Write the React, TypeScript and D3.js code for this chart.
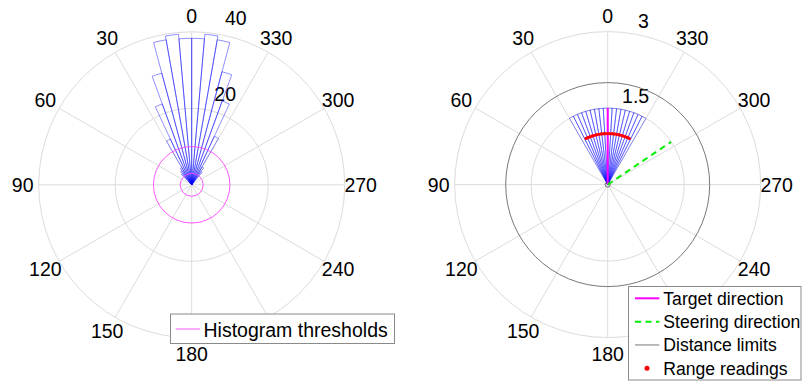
import React from "react";
import * as d3 from "d3";

// left panel: polar histogram (degrees, counter-clockwise from top)
const histBinEdges = [-40, -35, -30, -25, -20, -15, -10, -5, 0, 5, 10, 15, 20, 25, 30, 35, 40, 45];
const histBinValues = [4.2, 5.4, 14, 23.3, 30.6, 38.5, 39.5, 38.3, 38.3, 39.5, 38.5, 30.2, 22.5, 13.2, 5.2, 4.5, 3.8];
const histThresholds = [3, 10];
const leftRTicks = [20, 40];
const leftRMax = 40;

// right panel
const sectorEdges = [-30, -26.67, -23.33, -20, -16.67, -13.33, -10, -6.67, -3.33, 0, 3.33, 6.67, 10, 13.33, 16.67, 20, 23.33, 26.67, 30];
const sectorValues = [1.5, 1.5, 1.5, 1.5, 1.5, 1.5, 1.5, 1.5, 1.5, 1.5, 1.5, 1.5, 1.5, 1.5, 1.5, 1.5, 1.5, 1.5];
const readingAngles = [-25, -22.5, -20, -17.5, -15, -12.5, -10, -7.5, -5, -2.5, 0, 2.5, 5, 7.5, 10, 12.5, 15, 17.5, 20, 22.5, 25];
const readingRanges = [1, 1, 1, 1, 1, 1, 1, 1, 1, 1, 1, 1, 1, 1, 1, 1, 1, 1, 1, 1, 1];
const distanceLimits = [0.05, 2];
const targetDirection = 0;
const steeringDirection = -56;
const directionLength = 1.5;
const rightRTicks = [1.5, 3];
const rightRMax = 3;

const thetaTicks = [0, 30, 60, 90, 120, 150, 180, 210, 240, 270, 300, 330];

const W = 804;
const H = 382;
const R = 153;
const FONT = "'Liberation Sans', Arial, Helvetica, sans-serif";
const GRID = "#dcdcdc";

const rad = (deg: number) => (deg * Math.PI) / 180;
// theta counter-clockwise from the top
const px = (cx: number, r: number, th: number) => cx - r * Math.sin(rad(th));
const py = (cy: number, r: number, th: number) => cy - r * Math.cos(rad(th));

function PolarGrid({ cx, cy, rScale, rTicks, labelDx, labelDy, labelAngle }: any) {
  return (
    <g>
      {rTicks.map((t: number) => (
        <circle key={"c" + t} cx={cx} cy={cy} r={rScale(t)} fill="none" stroke={GRID} strokeWidth={1} />
      ))}
      {thetaTicks.map((th) => (
        <line key={"s" + th} x1={cx} y1={cy} x2={px(cx, R, th)} y2={py(cy, R, th)} stroke={GRID} strokeWidth={1} />
      ))}
      {thetaTicks.map((th) => (
        <text
          key={"t" + th}
          x={px(cx, R + 16, th)}
          y={py(cy, R + 16, th)}
          textAnchor="middle"
          dominantBaseline="central"
          fontSize={19.5}
          fontFamily={FONT}
        >
          {th}
        </text>
      ))}
      {rTicks.map((t: number) => (
        <text
          key={"rl" + t}
          x={px(cx, rScale(t), labelAngle) + labelDx}
          y={py(cy, rScale(t), labelAngle) + labelDy}
          textAnchor="start"
          dominantBaseline="central"
          fontSize={19.5}
          fontFamily={FONT}
        >
          {t}
        </text>
      ))}
    </g>
  );
}

function LeftPanel() {
  const cx = 191.7;
  const cy = 184.8;
  const rScale = d3.scaleLinear().domain([0, leftRMax]).range([0, R]);
  const arc = d3.arc();
  const bars = histBinValues.map((v, i) => ({
    path: arc({
      innerRadius: 0,
      outerRadius: rScale(v),
      startAngle: -rad(histBinEdges[i + 1]),
      endAngle: -rad(histBinEdges[i]),
    } as any) as string,
  }));
  return (
    <g>
      <PolarGrid cx={cx} cy={cy} rScale={rScale} rTicks={leftRTicks} labelDx={12} labelDy={-15} labelAngle={-8} />
      <g transform={`translate(${cx},${cy})`}>
        {bars.map((b, i) => (
          <path key={i} d={b.path} fill="none" stroke="#0000ff" strokeOpacity={0.55} strokeWidth={0.8} />
        ))}
      </g>
      {histThresholds.map((t) => (
        <circle key={t} cx={cx} cy={cy} r={rScale(t)} fill="none" stroke="#ff44ff" strokeWidth={0.9} />
      ))}
      <g>
        <rect x={170.5} y={314} width={224} height={29.5} fill="#fff" stroke="#8a8a8a" strokeWidth={1} />
        <line x1={175.7} x2={200} y1={329} y2={329} stroke="#ff44ff" strokeWidth={0.9} />
        <text x={203.5} y={329.5} dominantBaseline="central" fontSize={19.5} fontFamily={FONT}>
          Histogram thresholds
        </text>
      </g>
    </g>
  );
}

function RightPanel() {
  const cx = 607.7;
  const cy = 184.6;
  const rScale = d3.scaleLinear().domain([0, rightRMax]).range([0, R]);
  const arc = d3.arc();
  const sectors = sectorValues.map((v, i) =>
    arc({
      innerRadius: 0,
      outerRadius: rScale(v),
      startAngle: -rad(sectorEdges[i + 1]),
      endAngle: -rad(sectorEdges[i]),
    } as any) as string
  );
  const legendRows = [
    { label: "Target direction", kind: "target" },
    { label: "Steering direction", kind: "steer" },
    { label: "Distance limits", kind: "limit" },
    { label: "Range readings", kind: "dot" },
  ];
  const rowY = d3.scalePoint().domain(legendRows.map((d) => d.label)).range([298.3, 368.3]);
  return (
    <g>
      <PolarGrid cx={cx} cy={cy} rScale={rScale} rTicks={rightRTicks} labelDx={-1.5} labelDy={-13.5} labelAngle={-12} />
      <g transform={`translate(${cx},${cy})`}>
        {sectors.map((d, i) => (
          <path key={i} d={d} fill="none" stroke="#0000ff" strokeOpacity={0.5} strokeWidth={0.8} />
        ))}
      </g>
      {distanceLimits.map((d) => (
        <circle key={d} cx={cx} cy={cy} r={rScale(d)} fill="none" stroke="#555" strokeWidth={0.8} />
      ))}
      <line
        x1={cx}
        y1={cy}
        x2={px(cx, rScale(directionLength), targetDirection)}
        y2={py(cy, rScale(directionLength), targetDirection)}
        stroke="#ff00ff"
        strokeWidth={2}
      />
      <line
        x1={cx}
        y1={cy}
        x2={px(cx, rScale(directionLength), steeringDirection)}
        y2={py(cy, rScale(directionLength), steeringDirection)}
        stroke="#00ee00"
        strokeWidth={2}
        strokeDasharray="6,4.5"
      />
      {readingAngles.map((a, i) => (
        <circle key={i} cx={px(cx, rScale(readingRanges[i]), a)} cy={py(cy, rScale(readingRanges[i]), a)} r={1.7} fill="#ff0000" />
      ))}
      <g>
        <rect x={628.5} y={286.5} width={172.5} height={93.5} fill="#fff" stroke="#8a8a8a" strokeWidth={1} />
        {legendRows.map((row) => {
          const y = rowY(row.label) as number;
          return (
            <g key={row.label}>
              {row.kind === "target" && <line x1={635} x2={659.3} y1={y} y2={y} stroke="#ff00ff" strokeWidth={2} />}
              {row.kind === "steer" && (
                <line x1={635} x2={659.3} y1={y} y2={y} stroke="#00ee00" strokeWidth={2} strokeDasharray="6,4.5" />
              )}
              {row.kind === "limit" && <line x1={635} x2={659.3} y1={y} y2={y} stroke="#555" strokeWidth={0.8} />}
              {row.kind === "dot" && <circle cx={647} cy={y} r={2.5} fill="#ff0000" />}
              <text x={663.3} y={y + 0.5} dominantBaseline="central" fontSize={17.6} fontFamily={FONT}>
                {row.label}
              </text>
            </g>
          );
        })}
      </g>
    </g>
  );
}

export default function App() {
  return (
    <svg
      width={W}
      height={H}
      viewBox={`0 0 ${W} ${H}`}
      style={{ position: "absolute", left: 0, top: 0, background: "#fff" }}
    >
      <rect width={W} height={H} fill="#fff" />
      <LeftPanel />
      <RightPanel />
    </svg>
  );
}
